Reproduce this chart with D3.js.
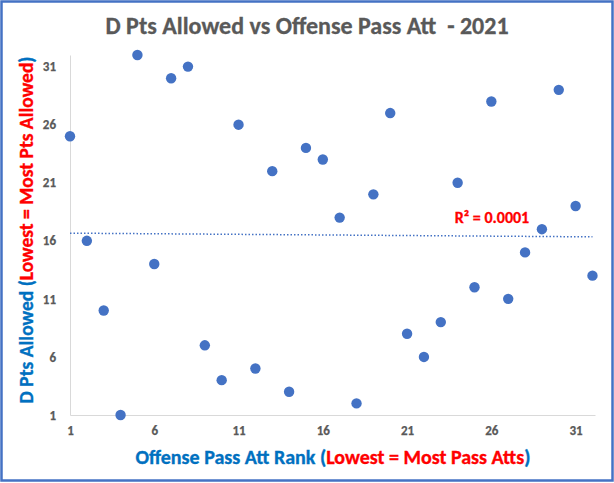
<!DOCTYPE html>
<html>
<head>
<meta charset="utf-8">
<script src="https://cdn.jsdelivr.net/npm/d3@7"></script>
<style>
  body { margin: 0; background: #fff; }
  text { font-family: Carlito, Calibri, Lato, "Liberation Sans", sans-serif; font-weight: 700; }
</style>
</head>
<body>
<div id="container"></div>
<script>
const w = 614;
const h = 483;

// offense pass att rank (x) and defensive pts allowed rank (y), one per team
let passAttRank = [1, 2, 3, 4, 5, 6, 7, 8, 9, 10, 11, 12, 13, 14, 15, 16,
                   17, 18, 19, 20, 21, 22, 23, 24, 25, 26, 27, 28, 29, 30, 31, 32];
let ptsAllowedRank = [25, 16, 10, 1, 32, 14, 30, 31, 7, 4, 26, 5, 22, 3, 24, 23,
                      18, 2, 20, 27, 8, 6, 9, 21, 12, 28, 11, 15, 17, 29, 19, 13];
let xTicks = [1, 6, 11, 16, 21, 26, 31];
let yTicks = [1, 6, 11, 16, 21, 26, 31];
let r2Label = "R\u00B2 = 0.0001";

let points = passAttRank.map(function(x, i){ return { x: x, y: ptsAllowedRank[i] } });

let viz = d3.select("#container").append("svg").attr("width", w).attr("height", h);

// outer border
viz.append("rect")
    .attr("x", 1.5).attr("y", 1.5)
    .attr("width", w - 3).attr("height", h - 4)
    .attr("fill", "white")
    .attr("stroke", "#4472C4")
    .attr("stroke-width", 2.5);

let xScale = d3.scaleLinear().domain([1, 32.15]).range([70, 595]);
let yScale = d3.scaleLinear().domain([1, 32]).range([415, 55]);

// axes
let xAxis = d3.axisBottom(xScale).tickValues(xTicks).tickSize(0).tickPadding(11);
let xAxisGroup = viz.append("g").attr("transform", "translate(0," + yScale(1) + ")").call(xAxis);
let yAxis = d3.axisLeft(yScale).tickValues(yTicks).tickSize(0).tickPadding(14);
let yAxisGroup = viz.append("g").attr("transform", "translate(" + xScale(1) + ",0)").call(yAxis);

[xAxisGroup, yAxisGroup].forEach(function(g){
    g.select(".domain").attr("stroke", "#D9D9D9").attr("stroke-width", 1);
    g.selectAll("text")
        .attr("fill", "#595959")
        .attr("stroke", "#595959")
        .attr("stroke-width", 0.25)
        .style("font-size", "13px")
        .style("font-family", 'Carlito, Calibri, Lato, "Liberation Sans", sans-serif')
        .style("font-weight", "700");
});

// linear trendline (least squares)
let mx = d3.mean(points, d => d.x);
let my = d3.mean(points, d => d.y);
let sxy = d3.sum(points, d => (d.x - mx) * (d.y - my));
let sxx = d3.sum(points, d => (d.x - mx) * (d.x - mx));
let slope = sxy / sxx;
let intercept = my - slope * mx;
let xExt = d3.extent(points, d => d.x);

viz.append("line")
    .attr("x1", xScale(xExt[0])).attr("y1", yScale(intercept + slope * xExt[0]))
    .attr("x2", xScale(xExt[1])).attr("y2", yScale(intercept + slope * xExt[1]))
    .attr("stroke", "#4472C4")
    .attr("stroke-width", 1.5)
    .attr("stroke-dasharray", "1.5,2");

// points
viz.selectAll(".dot").data(points).enter()
    .append("circle")
    .attr("class", "dot")
    .attr("cx", d => xScale(d.x))
    .attr("cy", d => yScale(d.y))
    .attr("r", 5.2)
    .attr("fill", "#4472C4");

viz.append("text")
    .attr("x", 492).attr("y", 223)
    .attr("text-anchor", "middle")
    .attr("fill", "#FF0000")
    .attr("stroke", "#FF0000").attr("stroke-width", 0.3)
    .style("font-size", "16px")
    .text(r2Label);

// title
viz.append("text")
    .attr("x", 307).attr("y", 34)
    .attr("text-anchor", "middle")
    .attr("fill", "#595959")
    .attr("stroke", "#595959").attr("stroke-width", 0.3)
    .style("font-size", "24px")
    .style("white-space", "pre")
    .text("D Pts Allowed vs Offense Pass Att  - 2021");

// x axis title
let xt = viz.append("text")
    .attr("x", 333).attr("y", 464)
    .attr("text-anchor", "middle")
    .attr("stroke-width", 0.35)
    .style("font-size", "20px");
xt.append("tspan").attr("fill", "#0070C0").attr("stroke", "#0070C0").text("Offense Pass Att Rank (");
xt.append("tspan").attr("fill", "#FF0000").attr("stroke", "#FF0000").text("Lowest = Most Pass Atts");
xt.append("tspan").attr("fill", "#0070C0").attr("stroke", "#0070C0").text(")");

// y axis title
let yt = viz.append("text")
    .attr("transform", "translate(33,230) rotate(-90)")
    .attr("text-anchor", "middle")
    .attr("stroke-width", 0.35)
    .style("font-size", "19.5px");
yt.append("tspan").attr("fill", "#0070C0").attr("stroke", "#0070C0").text("D Pts Allowed (");
yt.append("tspan").attr("fill", "#FF0000").attr("stroke", "#FF0000").text("Lowest = Most Pts Allowed");
yt.append("tspan").attr("fill", "#0070C0").attr("stroke", "#0070C0").text(")");
</script>
</body>
</html>
